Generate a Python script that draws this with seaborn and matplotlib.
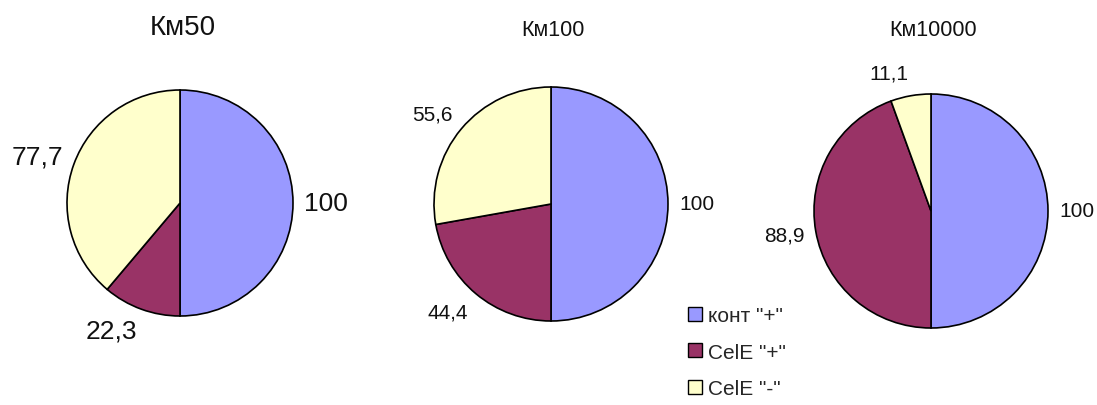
import matplotlib
matplotlib.use("Agg")
import matplotlib.pyplot as plt
import seaborn as sns
from matplotlib.patches import Patch

# ---- data ----
categories = ['конт "+"', 'CelE "+"', 'CelE "-"']
titles = ["Км50", "Км100", "Км10000"]
km50 = [100, 22.3, 77.7]
km100 = [100, 44.4, 55.6]
km10000 = [100, 88.9, 11.1]
series = [km50, km100, km10000]

# ---- style ----
sns.set_theme(style="white")
plt.rcParams["font.family"] = ["Liberation Sans", "DejaVu Sans"]
colors = ["#9999FF", "#993366", "#FFFFCC"]

W, H = 1097, 406
fig = plt.figure(figsize=(W / 100, H / 100), dpi=100)
ax = fig.add_axes([0, 0, 1, 1])

# layout (pixel space, y measured from top)
centers = [(180, 204), (551, 205), (931, 212)]
radii = [113, 117, 117]
label_sizes = [19, 15, 15]
title_pos = [(183, 28), (553, 31), (933, 31)]
title_sizes = [20, 15.5, 15.5]
extra_vertical = 0.1  # labels sit slightly further out above/below the pie

def fmt(v):
    return (f"{v:g}").replace(".", ",")

for vals, (cx, cy), r, ls, t, (tx, ty), ts in zip(series, centers, radii, label_sizes,
                                                   titles, title_pos, title_sizes):
    wedges, texts = ax.pie(vals, colors=colors, startangle=90, counterclock=False,
                           center=(cx, H - cy), radius=r, labels=[fmt(v) for v in vals],
                           labeldistance=1.1, frame=True,
                           wedgeprops=dict(edgecolor="black", linewidth=1.2),
                           textprops=dict(fontsize=ls, color="#111111"))
    for txt in texts:
        x, y = txt.get_position()
        dy = (y - (H - cy)) / 1.1
        txt.set_position((x, y + extra_vertical * dy))
        txt.set_ha("left" if x > cx else "right")
        txt.set_va("center")
    ax.text(tx, H - ty, t, ha="center", va="center", fontsize=ts, color="#111111")

ax.set_xlim(0, W)
ax.set_ylim(0, H)
ax.set_aspect("equal")
ax.axis("off")

handles = [Patch(facecolor=c, edgecolor="black", linewidth=1.0) for c in colors]
fig.legend(handles, categories, loc="upper left", bbox_to_anchor=(688 / W, 1 - 307 / H),
           frameon=False, fontsize=15, labelspacing=0.85, handlelength=0.65,
           handleheight=0.65, handletextpad=0.3, borderpad=0, borderaxespad=0)

fig.savefig("out.png", dpi=100, facecolor="white")
